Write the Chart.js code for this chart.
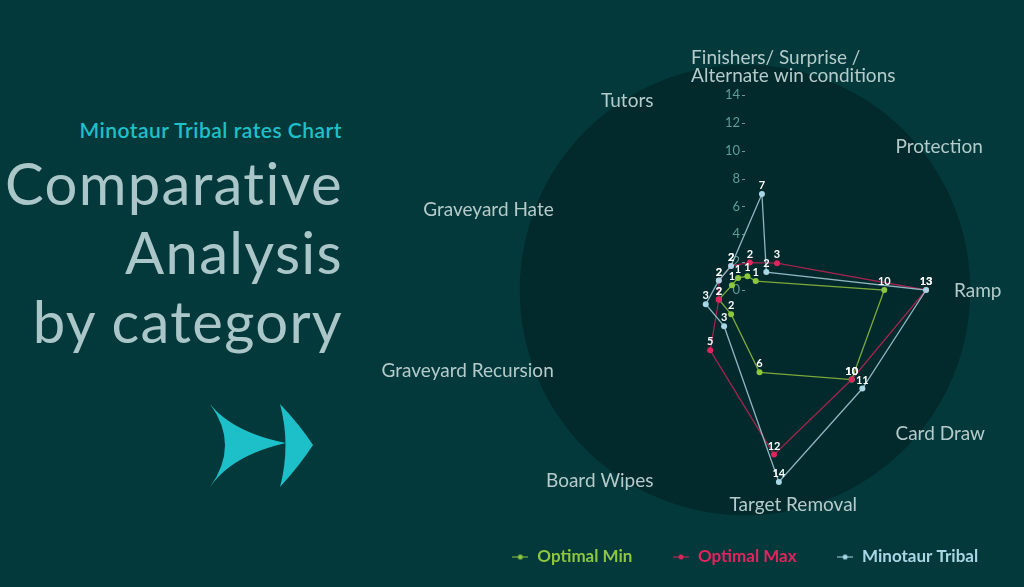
<!DOCTYPE html>
<html>
<head>
<meta charset="utf-8">
<script src="https://cdn.jsdelivr.net/npm/chart.js@4"></script>
<style>
  html, body { margin: 0; padding: 0; width: 1024px; height: 587px; overflow: hidden; background: #03393b; font-family: Lato, sans-serif; }
  .subtitle { position: absolute; right: 682px; top: 117px; color: #1fc0c8; font-size: 21px; font-weight: 600; letter-spacing: 0.5px; white-space: nowrap; }
  .headline { position: absolute; right: 681px; top: 148px; color: #abc6c8; font-size: 58px; line-height: 69px; letter-spacing: 1.3px; text-align: right; white-space: nowrap; font-variant-ligatures: none; }
  #arrow { position: absolute; left: 0; top: 0; }
  #wrap { position: absolute; left: 345px; top: 0; width: 800px; height: 587px; }
</style>
</head>
<body>
<div class="subtitle">Minotaur Tribal rates Chart</div>
<div class="headline">Comparative<br>Analysis<br>by category</div>
<svg id="arrow" width="1024" height="587">
  <path fill="#1dbfc9" d="M210,404 Q232,432 286,443 Q232,455 210,487 Q240,445 210,404 Z"/>
  <path fill="#1dbfc9" d="M280,404 Q300,425 313,445 Q300,465 280,487 Q291,445 280,404 Z"/>
</svg>
<div id="wrap"><canvas id="chart" width="800" height="587"></canvas></div>
<script>
// categories, clockwise from the top
const categories = [['Finishers/ Surprise /', 'Alternate win conditions'], 'Protection', 'Ramp', 'Card Draw',
  'Target Removal', 'Board Wipes', 'Graveyard Recursion', 'Graveyard Hate', 'Tutors'];
const optimalMin = [1, 1, 10, 10, 6, 2, 2, 1, 1];
const optimalMax = [2, 3, 13, 10, 12, 5, 2, 2, 2];
const minotaurTribal = [7, 2, 13, 11, 14, 3, 3, 2, 2];
const tickValues = [0, 2, 4, 6, 8, 10, 12, 14];

function legendMarker(color) {
  const c = document.createElement('canvas');
  c.width = 16; c.height = 8;
  const g = c.getContext('2d');
  g.strokeStyle = color; g.lineWidth = 1;
  g.beginPath(); g.moveTo(0, 4.5); g.lineTo(16, 4.5); g.stroke();
  g.fillStyle = color;
  g.beginPath(); g.arc(8, 4.5, 2.5, 0, Math.PI * 2); g.fill();
  return c;
}

// dark disc, upright tick labels and category labels
const radarDecor = {
  id: 'radarDecor',
  beforeDatasetsDraw(chart) {
    const s = chart.scales.r;
    const ctx = chart.ctx;
    ctx.save();
    ctx.fillStyle = '#02292b';
    ctx.beginPath();
    ctx.arc(s.xCenter, s.yCenter, s.drawingArea * 1.155, 0, Math.PI * 2);
    ctx.fill();

    ctx.font = '13px Lato';
    ctx.fillStyle = '#5f9c99';
    ctx.textAlign = 'right';
    ctx.textBaseline = 'middle';
    s.ticks.forEach(t => {
      const y = s.yCenter - s.getDistanceFromCenterForValue(t.value);
      ctx.fillText(String(t.value), s.xCenter - 5, y);
      ctx.fillRect(s.xCenter - 3, Math.round(y), 3, 1);
    });

    ctx.font = '19px Lato';
    ctx.fillStyle = '#b5cbcb';
    ctx.textAlign = 'left';
    ctx.textBaseline = 'top';
    const lh = 18;
    chart.data.labels.forEach((lab, i) => {
      const p = s.getPointPosition(i, s.drawingArea + 14);
      const a = s.getIndexAngle(i);
      const deg = a * 180 / Math.PI;
      const inset = 15 * Math.abs(Math.cos(a));   // diagonal labels sit a bit closer in
      const lines = Array.isArray(lab) ? lab : [lab];
      const h = lines.length * lh;
      const w = Math.max(...lines.map(l => ctx.measureText(l).width));
      let left;
      if (deg < 20 || deg > 340 || Math.abs(deg - 180) < 20) left = p.x - w / 2 + 12;
      else if (deg < 180) left = p.x - inset;
      else left = p.x - w + inset;
      let top;
      if (Math.abs(deg - 90) < 1 || Math.abs(deg - 270) < 1) top = p.y - h / 2;
      else if (deg < 90 || deg > 270) top = p.y - h;
      else top = p.y;
      lines.forEach((l, k) => ctx.fillText(l, left, top + k * lh));
    });
    ctx.restore();
  },
  afterDatasetsDraw(chart) {
    const ctx = chart.ctx;
    ctx.save();
    ctx.font = 'bold 11px Lato';
    ctx.fillStyle = '#ffffff';
    ctx.textAlign = 'center';
    ctx.textBaseline = 'bottom';
    chart.data.datasets.forEach((ds, i) => {
      chart.getDatasetMeta(i).data.forEach((pt, j) => {
        ctx.fillText(String(ds.data[j]), pt.x, pt.y - 3);
      });
    });
    ctx.restore();
  }
};

new Chart(document.getElementById('chart'), {
  type: 'radar',
  data: {
    labels: categories,
    datasets: [
      { label: 'Optimal Min', data: optimalMin, order: 3, borderColor: '#7ba83a', pointBackgroundColor: '#8dc63f' },
      { label: 'Optimal Max', data: optimalMax, order: 2, borderColor: '#a1244f', pointBackgroundColor: '#e0245e' },
      { label: 'Minotaur Tribal', data: minotaurTribal, order: 1, borderColor: '#8eb5c0', pointBackgroundColor: '#a9d6e5' }
    ]
  },
  options: {
    responsive: false,
    animation: false,
    layout: { padding: { top: 95, bottom: 12, left: 0, right: 0 } },
    elements: {
      line: { borderWidth: 1.3, fill: false, tension: 0 },
      point: { radius: 3, borderWidth: 0, hoverRadius: 3 }
    },
    scales: {
      r: {
        min: 0,
        max: 14,
        startAngle: 10,
        afterBuildTicks: s => { s.ticks = tickValues.map(v => ({ value: v })); },
        ticks: { display: false },
        grid: { display: false },
        angleLines: { display: false },
        pointLabels: { display: false }
      }
    },
    plugins: {
      tooltip: { enabled: false },
      legend: {
        position: 'bottom',
        title: { display: true, text: ' ', font: { size: 10 }, padding: { top: 10, bottom: 0 } },
        labels: {
          usePointStyle: true,
          padding: 40,
          font: { family: 'Lato', size: 17, weight: 'bold' },
          sort: (a, b) => a.datasetIndex - b.datasetIndex,
          generateLabels(chart) {
            return Chart.defaults.plugins.legend.labels.generateLabels(chart).map(item => {
              const ds = chart.data.datasets[item.datasetIndex];
              item.pointStyle = legendMarker(ds.pointBackgroundColor);
              item.fontColor = ds.pointBackgroundColor;
              return item;
            });
          }
        }
      }
    }
  },
  plugins: [radarDecor]
});
</script>
</body>
</html>
